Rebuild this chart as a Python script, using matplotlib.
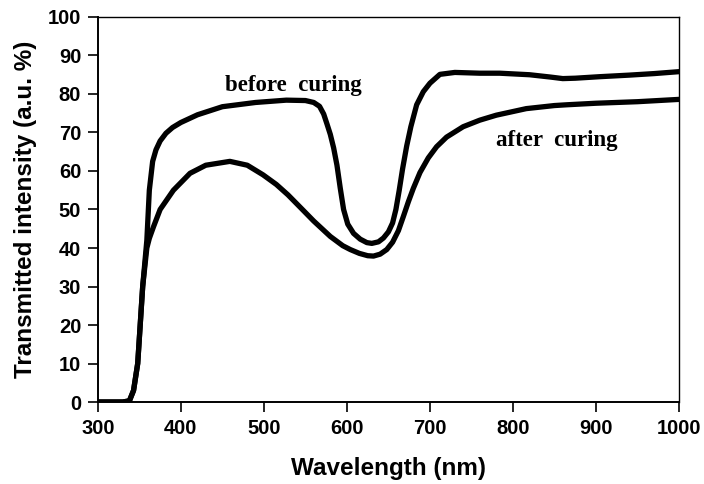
import numpy as np
import matplotlib.pyplot as plt

# values
wl_before = [300, 330, 338, 343, 348, 354, 359, 362, 366, 370, 375, 382, 390, 400, 420, 450, 490, 527,
             550, 560, 567, 572, 576, 580, 584, 588, 592, 596, 601, 608, 616, 624, 630, 638, 644, 650,
             655, 659, 663, 667, 672, 677, 684, 692, 700, 712, 730, 760, 784, 820, 845, 860, 875,
             905, 940, 970, 1000]
tr_before = [0, 0, 0.3, 3, 10, 30, 42, 55, 62.5, 65.5, 67.8, 69.8, 71.3, 72.6, 74.6, 76.7, 77.8, 78.4,
             78.3, 77.8, 76.8, 74.8, 72.2, 69.5, 66, 61.5, 55.5, 50, 46.2, 43.8, 42.3, 41.4, 41.2, 41.6, 42.6, 44.2,
             46.5, 50, 55, 60.5, 66.5, 71.5, 77.2, 80.6, 82.8, 85.1, 85.6, 85.4, 85.4, 85, 84.4, 84, 84.1,
             84.5, 84.9, 85.3, 85.8]

wl_after = [300, 330, 338, 343, 348, 354, 359, 362, 367, 375, 391, 411, 430, 459, 480, 499,
            515, 529, 545, 560, 580, 595, 604, 615, 625, 632, 640, 648, 655, 662, 668, 674, 680, 688,
            698, 708, 720, 740, 760, 780, 816, 850, 865, 900, 950, 1000]
tr_after = [0, 0, 0.3, 3, 10, 30, 40, 42.5, 45.5, 50, 55, 59.4, 61.5, 62.5, 61.5, 59,
            56.5, 53.8, 50.3, 47, 43, 40.6, 39.6, 38.6, 38, 37.9, 38.4, 39.6, 41.5, 44.5, 48.2, 52, 55.5, 59.6,
            63.4, 66.3, 68.8, 71.5, 73.2, 74.5, 76.2, 77, 77.2, 77.6, 78, 78.6]

plt.rcParams['font.family'] = ['Liberation Sans', 'DejaVu Sans']

fig = plt.figure(figsize=(7.04, 4.84), dpi=100)
ax = fig.add_axes([0.139, 0.1694, 0.8255, 0.7955])

ax.plot(wl_before, tr_before, color='black', lw=3.8, solid_joinstyle='round')
ax.plot(wl_after, tr_after, color='black', lw=3.8, solid_joinstyle='round')

ax.text(536, 82.3, 'before  curing', family=['Liberation Serif'], fontweight='bold',
        fontsize=16.5, ha='center', va='center')
ax.text(853, 67.8, 'after  curing', family=['Liberation Serif'], fontweight='bold',
        fontsize=16.5, ha='center', va='center')

ax.set_xlim(300, 1000)
ax.set_ylim(0, 100)
ax.set_xticks(np.arange(300, 1001, 100))
ax.set_yticks(np.arange(0, 101, 10))
ax.tick_params(direction='out', length=7, width=1.2, pad=5, labelsize=14.5,
               top=False, right=False)
for lbl in ax.get_xticklabels() + ax.get_yticklabels():
    lbl.set_fontweight('bold')
for s in ['left', 'bottom']:
    ax.spines[s].set_linewidth(1.4)
for s in ['top', 'right']:
    ax.spines[s].set_linewidth(1.0)

ax.set_xlabel('Wavelength (nm)', fontsize=17.5, fontweight='bold', labelpad=14)
ax.set_ylabel('Transmitted intensity (a.u. %)', fontsize=17.5, fontweight='bold', labelpad=8)

fig.savefig('out.png', dpi=100)
